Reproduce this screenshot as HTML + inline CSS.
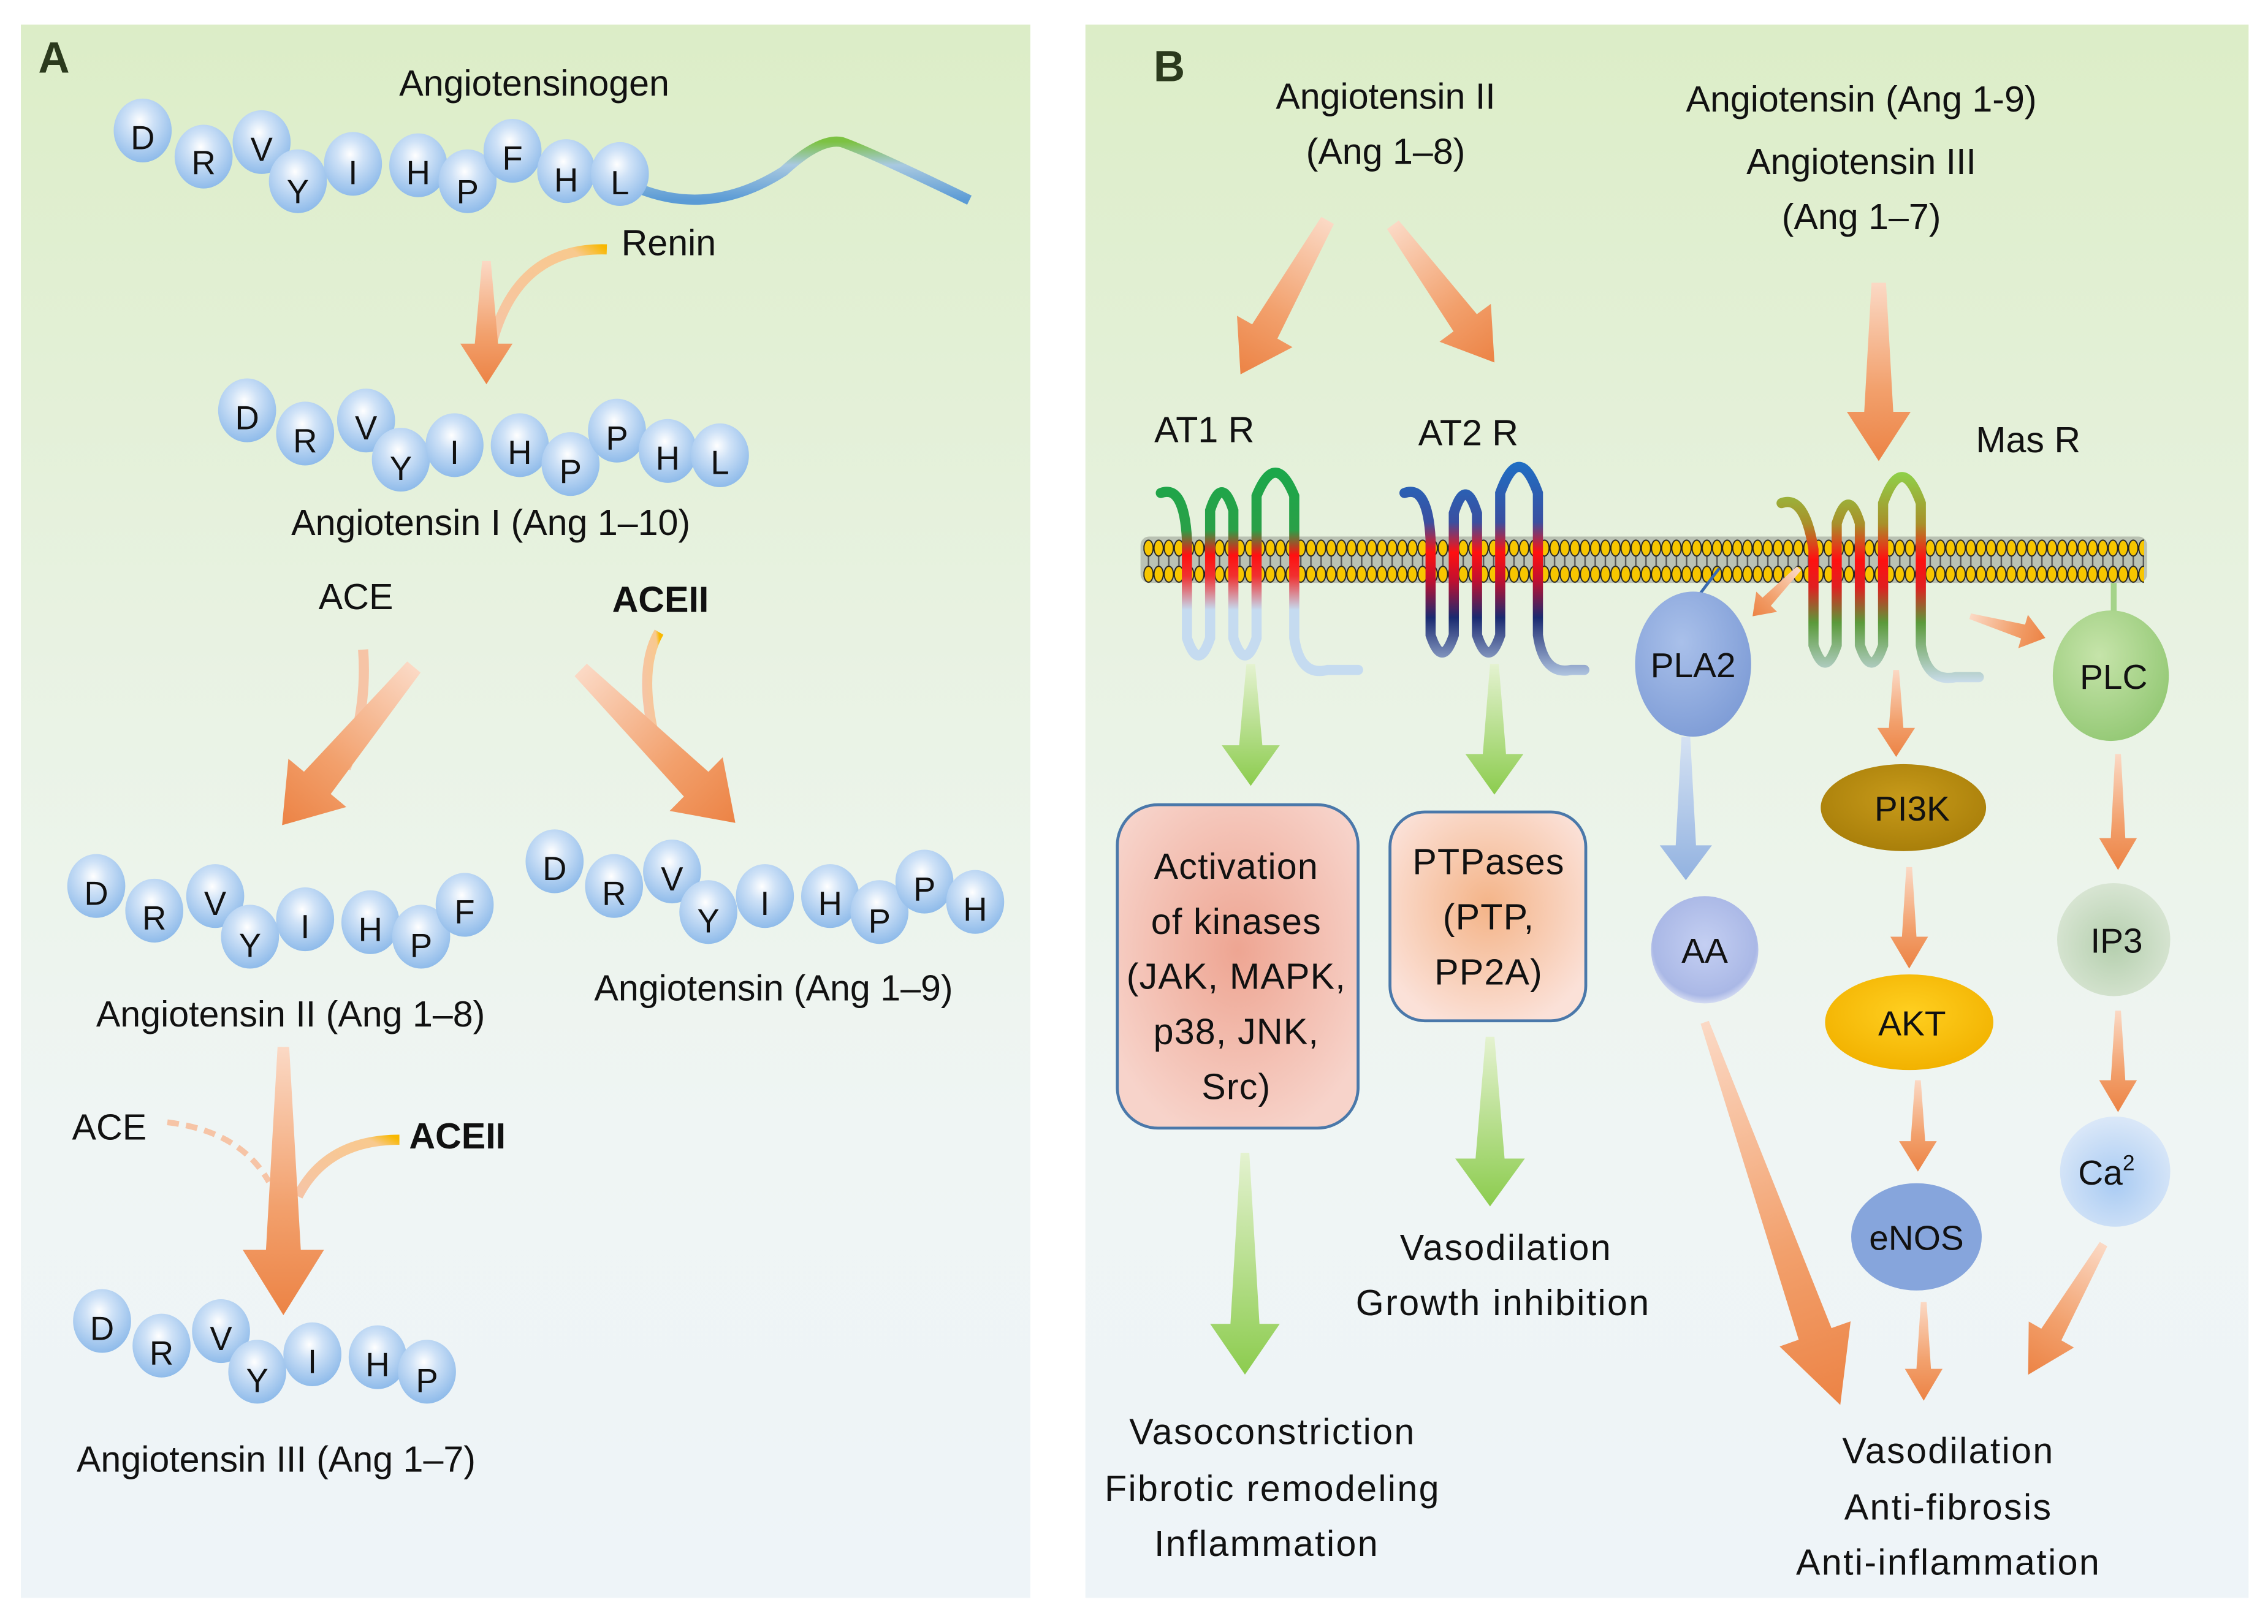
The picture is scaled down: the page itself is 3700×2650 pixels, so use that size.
<!DOCTYPE html>
<html><head><meta charset="utf-8"><style>html,body{margin:0;padding:0;background:#fff}svg{display:block}text{font-family:"Liberation Sans",sans-serif;fill:#111}</style></head>
<body>
<svg width="3700" height="2650" viewBox="0 0 1563 1120" xmlns="http://www.w3.org/2000/svg">
<defs>
<linearGradient id="bg" x1="0" y1="0" x2="0" y2="1"><stop offset="0" stop-color="#dcedc7"/><stop offset="0.45" stop-color="#eaf3e6"/><stop offset="0.7" stop-color="#eff5f4"/><stop offset="1" stop-color="#eef4f8"/></linearGradient>
<radialGradient id="bead" cx="0.45" cy="0.35" r="0.65"><stop offset="0" stop-color="#ffffff"/><stop offset="0.35" stop-color="#cfe2f7"/><stop offset="1" stop-color="#8fbbea"/></radialGradient>
<linearGradient id="og" x1="0" y1="0" x2="0" y2="1"><stop offset="0" stop-color="#fbd9c5"/><stop offset="0.6" stop-color="#f2a06c"/><stop offset="1" stop-color="#ec8345"/></linearGradient>
<linearGradient id="gg" x1="0" y1="0" x2="0" y2="1"><stop offset="0" stop-color="#e4f2d0"/><stop offset="1" stop-color="#8ccc4e"/></linearGradient>
<linearGradient id="bg2" x1="0" y1="0" x2="0" y2="1"><stop offset="0" stop-color="#d5e2f3"/><stop offset="1" stop-color="#92b2e0"/></linearGradient>
<linearGradient id="enz" x1="1" y1="0" x2="0" y2="1"><stop offset="0" stop-color="#f8b800"/><stop offset="0.15" stop-color="#f8c98e"/><stop offset="1" stop-color="#f6c4a6"/></linearGradient>
<linearGradient id="tail" x1="0" y1="0" x2="0" y2="1"><stop offset="0" stop-color="#7cc242"/><stop offset="0.4" stop-color="#a9c9e0"/><stop offset="1" stop-color="#5b9bd5"/></linearGradient>
<linearGradient id="r1" x1="0" y1="0" x2="0" y2="145" gradientUnits="userSpaceOnUse"><stop offset="0" stop-color="#1aa84a"/><stop offset="0.3" stop-color="#2aa048"/><stop offset="0.42" stop-color="#ff1010"/><stop offset="0.52" stop-color="#f03030"/><stop offset="0.68" stop-color="#c5dbf0"/><stop offset="1" stop-color="#c5dbf0"/></linearGradient>
<linearGradient id="r2" x1="0" y1="0" x2="0" y2="150" gradientUnits="userSpaceOnUse"><stop offset="0" stop-color="#1e6fc4"/><stop offset="0.28" stop-color="#3a4fa0"/><stop offset="0.42" stop-color="#ff1010"/><stop offset="0.55" stop-color="#c01030"/><stop offset="0.72" stop-color="#1a2a70"/><stop offset="1" stop-color="#b8cde6"/></linearGradient>
<linearGradient id="r3" x1="0" y1="0" x2="0" y2="145" gradientUnits="userSpaceOnUse"><stop offset="0" stop-color="#8ed24a"/><stop offset="0.25" stop-color="#a8902a"/><stop offset="0.42" stop-color="#ff1010"/><stop offset="0.55" stop-color="#e02020"/><stop offset="0.72" stop-color="#5a9a3a"/><stop offset="1" stop-color="#c8dbe8"/></linearGradient>
<pattern id="lip" width="7" height="30" patternUnits="userSpaceOnUse" x="788" y="372">
<rect x="3" y="6" width="1" height="18" fill="#555"/>
<ellipse cx="3.5" cy="6" rx="3.2" ry="5.5" fill="#f7c600" stroke="#222" stroke-width="0.8"/>
<ellipse cx="3.5" cy="24" rx="3.2" ry="5.5" fill="#f7c600" stroke="#222" stroke-width="0.8"/>
</pattern>
<radialGradient id="box1" cx="0.5" cy="0.45" r="0.6"><stop offset="0" stop-color="#eea592"/><stop offset="1" stop-color="#f7d3ca"/></radialGradient>
<radialGradient id="box2" cx="0.5" cy="0.45" r="0.6"><stop offset="0" stop-color="#f4b488"/><stop offset="1" stop-color="#fbe1d8"/></radialGradient>
<radialGradient id="pla" cx="0.4" cy="0.35" r="0.7"><stop offset="0" stop-color="#a9c0ea"/><stop offset="1" stop-color="#7e9cd6"/></radialGradient>
<radialGradient id="plc" cx="0.4" cy="0.35" r="0.7"><stop offset="0" stop-color="#c6e4aa"/><stop offset="1" stop-color="#93c874"/></radialGradient>
<radialGradient id="aa" cx="0.5" cy="0.45" r="0.6"><stop offset="0" stop-color="#c4cff2"/><stop offset="0.8" stop-color="#aab8e6"/><stop offset="1" stop-color="#f2f4fa"/></radialGradient>
<radialGradient id="ip3" cx="0.5" cy="0.55" r="0.6"><stop offset="0" stop-color="#b5cfae"/><stop offset="1" stop-color="#dbe7d6"/></radialGradient>
<radialGradient id="ca" cx="0.5" cy="0.6" r="0.6"><stop offset="0" stop-color="#a9cbf3"/><stop offset="1" stop-color="#dbe8f8"/></radialGradient>
<radialGradient id="pi3k" cx="0.5" cy="0.4" r="0.6"><stop offset="0" stop-color="#c79a1a"/><stop offset="1" stop-color="#a97f0a"/></radialGradient>
<radialGradient id="akt" cx="0.5" cy="0.4" r="0.6"><stop offset="0" stop-color="#ffcf20"/><stop offset="1" stop-color="#f2b200"/></radialGradient>
</defs>

<rect width="1563" height="1120" fill="#fff"/>
<rect x="14" y="17" width="696" height="1085" fill="url(#bg)"/>
<rect x="748" y="17" width="802" height="1085" fill="url(#bg)"/>

<!-- PANEL A -->
<text x="26" y="50" font-size="30" font-weight="bold" style="fill:#2b3a1d">A</text>
<text x="368" y="66" font-size="25" text-anchor="middle">Angiotensinogen</text>
<path d="M440,130 Q490,150 540,118 Q565,95 580,98 Q600,105 668,138" fill="none" stroke="url(#tail)" stroke-width="7"/>
<g font-size="23" text-anchor="middle">
<g fill="url(#bead)">
<ellipse cx="98" cy="90" rx="20" ry="22"/><ellipse cx="140" cy="108" rx="20" ry="22"/><ellipse cx="180" cy="98" rx="20" ry="22"/><ellipse cx="205" cy="125" rx="20" ry="22"/><ellipse cx="243" cy="113" rx="20" ry="22"/><ellipse cx="288" cy="114" rx="20" ry="22"/><ellipse cx="322" cy="125" rx="20" ry="22"/><ellipse cx="353" cy="104" rx="20" ry="22"/><ellipse cx="390" cy="118" rx="20" ry="22"/><ellipse cx="427" cy="120" rx="20" ry="22"/>
</g>
<text x="98" y="103">D</text><text x="140" y="120">R</text><text x="180" y="111">V</text><text x="205" y="140">Y</text><text x="243" y="127">I</text><text x="288" y="127">H</text><text x="322" y="140">P</text><text x="353" y="117">F</text><text x="390" y="132">H</text><text x="427" y="134">L</text>
</g>
<path d="M418,172 Q355,170 338,240" fill="none" stroke="url(#enz)" stroke-width="7"/>
<text x="428" y="176" font-size="25">Renin</text>
<path transform="translate(335,180)" d="M-3,0 L3,0 L8,57 L18,57 L0,85 L-18,57 L-8,57 Z" fill="url(#og)"/>

<g font-size="23" text-anchor="middle">
<g fill="url(#bead)">
<ellipse cx="170" cy="283" rx="20" ry="22"/><ellipse cx="210" cy="299" rx="20" ry="22"/><ellipse cx="252" cy="290" rx="20" ry="22"/><ellipse cx="276" cy="317" rx="20" ry="22"/><ellipse cx="313" cy="307" rx="20" ry="22"/><ellipse cx="358" cy="307" rx="20" ry="22"/><ellipse cx="393" cy="320" rx="20" ry="22"/><ellipse cx="425" cy="297" rx="20" ry="22"/><ellipse cx="460" cy="311" rx="20" ry="22"/><ellipse cx="496" cy="314" rx="20" ry="22"/>
</g>
<text x="170" y="296">D</text><text x="210" y="312">R</text><text x="252" y="303">V</text><text x="276" y="331">Y</text><text x="313" y="320">I</text><text x="358" y="320">H</text><text x="393" y="333">P</text><text x="425" y="310">P</text><text x="460" y="324">H</text><text x="496" y="327">L</text>
</g>
<text x="338" y="369" font-size="25" text-anchor="middle">Angiotensin I (Ang 1–10)</text>

<text x="245" y="420" font-size="25" text-anchor="middle">ACE</text>
<text x="455" y="422" font-size="25" font-weight="bold" text-anchor="middle">ACEII</text>
<path d="M250,448 Q253,490 238,530" fill="none" stroke="#f6c4a6" stroke-width="7"/>
<path d="M454,436 Q440,460 450,505" fill="none" stroke="url(#enz)" stroke-width="7"/>
<path transform="translate(285,460) rotate(39.8)" d="M-6,0 L6,0 L12,104 L26,104 L0,142 L-26,104 L-12,104 Z" fill="url(#og)"/>
<path transform="translate(400,462) rotate(-45.3)" d="M-6,0 L6,0 L12,112 L26,112 L0,150 L-26,112 L-12,112 Z" fill="url(#og)"/>

<g font-size="23" text-anchor="middle">
<g fill="url(#bead)">
<ellipse cx="66" cy="611" rx="20" ry="22"/><ellipse cx="106" cy="628" rx="20" ry="22"/><ellipse cx="148" cy="618" rx="20" ry="22"/><ellipse cx="172" cy="646" rx="20" ry="22"/><ellipse cx="210" cy="634" rx="20" ry="22"/><ellipse cx="255" cy="636" rx="20" ry="22"/><ellipse cx="290" cy="646" rx="20" ry="22"/><ellipse cx="320" cy="624" rx="20" ry="22"/>
</g>
<text x="66" y="624">D</text><text x="106" y="641">R</text><text x="148" y="631">V</text><text x="172" y="660">Y</text><text x="210" y="647">I</text><text x="255" y="649">H</text><text x="290" y="660">P</text><text x="320" y="637">F</text>
</g>
<text x="200" y="708" font-size="25" text-anchor="middle">Angiotensin II (Ang 1–8)</text>

<g font-size="23" text-anchor="middle">
<g fill="url(#bead)">
<ellipse cx="382" cy="594" rx="20" ry="22"/><ellipse cx="423" cy="611" rx="20" ry="22"/><ellipse cx="463" cy="601" rx="20" ry="22"/><ellipse cx="488" cy="629" rx="20" ry="22"/><ellipse cx="527" cy="618" rx="20" ry="22"/><ellipse cx="572" cy="618" rx="20" ry="22"/><ellipse cx="606" cy="629" rx="20" ry="22"/><ellipse cx="637" cy="608" rx="20" ry="22"/><ellipse cx="672" cy="622" rx="20" ry="22"/>
</g>
<text x="382" y="607">D</text><text x="423" y="624">R</text><text x="463" y="614">V</text><text x="488" y="643">Y</text><text x="527" y="631">I</text><text x="572" y="631">H</text><text x="606" y="643">P</text><text x="637" y="621">P</text><text x="672" y="635">H</text>
</g>
<text x="533" y="690" font-size="25" text-anchor="middle">Angiotensin (Ang 1–9)</text>

<text x="75" y="786" font-size="25" text-anchor="middle">ACE</text>
<text x="315" y="792" font-size="25" font-weight="bold" text-anchor="middle">ACEII</text>
<path d="M115,774 Q165,780 185,815" fill="none" stroke="#f6c4a6" stroke-width="4" stroke-dasharray="8,5"/>
<path d="M275,786 Q225,786 205,825" fill="none" stroke="url(#enz)" stroke-width="7"/>
<path transform="translate(195,722)" d="M-4,0 L4,0 L12,140 L28,140 L0,185 L-28,140 L-12,140 Z" fill="url(#og)"/>

<g font-size="23" text-anchor="middle">
<g fill="url(#bead)">
<ellipse cx="70" cy="911" rx="20" ry="22"/><ellipse cx="111" cy="928" rx="20" ry="22"/><ellipse cx="152" cy="918" rx="20" ry="22"/><ellipse cx="177" cy="946" rx="20" ry="22"/><ellipse cx="215" cy="934" rx="20" ry="22"/><ellipse cx="260" cy="936" rx="20" ry="22"/><ellipse cx="294" cy="946" rx="20" ry="22"/>
</g>
<text x="70" y="924">D</text><text x="111" y="941">R</text><text x="152" y="931">V</text><text x="177" y="960">Y</text><text x="215" y="947">I</text><text x="260" y="949">H</text><text x="294" y="960">P</text>
</g>
<text x="190" y="1015" font-size="25" text-anchor="middle">Angiotensin III (Ang 1–7)</text>

<!-- PANEL B -->
<text x="795" y="56" font-size="30" font-weight="bold" style="fill:#2b3a1d">B</text>
<g font-size="25" text-anchor="middle">
<text x="955" y="75">Angiotensin II</text>
<text x="955" y="113">(Ang 1–8)</text>
<text x="1283" y="77">Angiotensin (Ang 1-9)</text>
<text x="1283" y="120">Angiotensin III</text>
<text x="1283" y="158">(Ang 1–7)</text>
<text x="830" y="305">AT1 R</text>
<text x="1012" y="307">AT2 R</text>
<text x="1398" y="312">Mas R</text>
</g>
<path transform="translate(915,152) rotate(29.5)" d="M-5,0 L5,0 L10,88 L22,88 L0,122 L-22,88 L-10,88 Z" fill="url(#og)"/>
<path transform="translate(960,155) rotate(-36.4)" d="M-5,0 L5,0 L10,84 L22,84 L0,118 L-22,84 L-10,84 Z" fill="url(#og)"/>
<path transform="translate(1295,195)" d="M-5,0 L5,0 L10,89 L22,89 L0,123 L-22,89 L-10,89 Z" fill="url(#og)"/>

<!-- membrane -->
<rect x="786" y="370" width="694" height="32" rx="6" fill="#333" opacity="0.25"/>
<rect x="788" y="372" width="690" height="30" fill="url(#lip)"/>

<!-- receptors -->
<g fill="none" stroke-width="7" stroke-linecap="round">
<path transform="translate(800,322)" stroke="url(#r1)" d="M0,18 Q16,12 18,50 L18,118 Q26,142 34,118 L34,30 Q42,5 50,30 L50,118 Q58,142 66,118 L66,20 Q79,-12 92,20 L92,118 Q96,145 115,140 L136,140"/>
<path transform="translate(968,318)" stroke="url(#r2)" d="M0,22 Q16,16 18,54 L18,120 Q26,144 34,120 L34,36 Q42,10 50,36 L50,120 Q58,144 66,120 L66,22 Q79,-14 92,22 L92,120 Q96,148 115,144 L124,144"/>
<path transform="translate(1228,325)" stroke="url(#r3)" d="M0,22 Q16,16 22,54 L22,120 Q30,144 38,120 L38,36 Q46,10 54,36 L54,120 Q62,144 70,120 L70,22 Q83,-14 96,22 L96,120 Q100,146 120,142 L136,142"/>
</g>
<path d="M1185,392 Q1175,405 1170,412" stroke="#3a6ab0" stroke-width="2" fill="none"/>
<line x1="1457" y1="402" x2="1457" y2="425" stroke="#a5d38a" stroke-width="4"/>
<ellipse cx="1167" cy="458" rx="40" ry="50" fill="url(#pla)"/>
<text x="1167" y="467" font-size="24" text-anchor="middle">PLA2</text>
<ellipse cx="1455" cy="466" rx="40" ry="45" fill="url(#plc)"/>
<text x="1457" y="475" font-size="24" text-anchor="middle">PLC</text>

<path transform="translate(1240,392) rotate(44.1)" d="M-2,0 L2,0 L4,32 L10,32 L0,46 L-10,32 L-4,32 Z" fill="url(#og)"/>
<path transform="translate(1358,425) rotate(-73.9)" d="M-2,0 L2,0 L5,38 L12,38 L0,54 L-12,38 L-5,38 Z" fill="url(#og)"/>

<!-- green arrows -->
<path transform="translate(862,458)" d="M-3,0 L3,0 L8,56 L20,56 L0,84 L-20,56 L-8,56 Z" fill="url(#gg)"/>
<path transform="translate(1030,458)" d="M-3,0 L3,0 L8,62 L20,62 L0,90 L-20,62 L-8,62 Z" fill="url(#gg)"/>
<path transform="translate(858,795)" d="M-3,0 L3,0 L10,118 L24,118 L0,153 L-24,118 L-10,118 Z" fill="url(#gg)"/>
<path transform="translate(1027,715)" d="M-3,0 L3,0 L10,84 L24,84 L0,117 L-24,84 L-10,84 Z" fill="url(#gg)"/>
<!-- blue arrow -->
<path transform="translate(1162,508)" d="M-3,0 L3,0 L7,75 L18,75 L0,99 L-18,75 L-7,75 Z" fill="url(#bg2)"/>

<!-- boxes -->
<rect x="770" y="555" width="166" height="223" rx="28" fill="url(#box1)" stroke="#4a78aa" stroke-width="2"/>
<g font-size="25" text-anchor="middle" letter-spacing="0.5">
<text x="852" y="606">Activation</text>
<text x="852" y="644">of kinases</text>
<text x="852" y="682">(JAK, MAPK,</text>
<text x="852" y="720">p38, JNK,</text>
<text x="852" y="758">Src)</text>
</g>
<rect x="958" y="560" width="135" height="144" rx="24" fill="url(#box2)" stroke="#4a78aa" stroke-width="2"/>
<g font-size="25" text-anchor="middle" letter-spacing="0.5">
<text x="1026" y="603">PTPases</text>
<text x="1026" y="641">(PTP,</text>
<text x="1026" y="679">PP2A)</text>
</g>
<g font-size="25" text-anchor="middle" letter-spacing="1">
<text x="1038" y="869">Vasodilation</text>
<text x="1036" y="907">Growth inhibition</text>
<text x="877" y="996">Vasoconstriction</text>
<text x="877" y="1035">Fibrotic remodeling</text>
<text x="873" y="1073">Inflammation</text>
<text x="1343" y="1009">Vasodilation</text>
<text x="1343" y="1048">Anti-fibrosis</text>
<text x="1343" y="1086">Anti-inflammation</text>
</g>

<!-- Mas pathway -->
<circle cx="1175" cy="655" r="37" fill="url(#aa)"/>
<text x="1175" y="664" font-size="24" text-anchor="middle">AA</text>
<ellipse cx="1312" cy="557" rx="57" ry="30" fill="url(#pi3k)"/>
<text x="1318" y="566" font-size="24" text-anchor="middle">PI3K</text>
<ellipse cx="1316" cy="705" rx="58" ry="33" fill="url(#akt)"/>
<text x="1318" y="714" font-size="24" text-anchor="middle">AKT</text>
<ellipse cx="1321" cy="853" rx="45" ry="37" fill="#86a5dc"/>
<text x="1321" y="862" font-size="24" text-anchor="middle">eNOS</text>
<circle cx="1457" cy="648" r="39" fill="url(#ip3)"/>
<text x="1459" y="657" font-size="24" text-anchor="middle">IP3</text>
<circle cx="1458" cy="808" r="38" fill="url(#ca)"/>
<text x="1452" y="817" font-size="24" text-anchor="middle">Ca<tspan font-size="15" dy="-10">2</tspan></text>

<path transform="translate(1307,462)" d="M-2,0 L2,0 L5,40 L13,40 L0,60 L-13,40 L-5,40 Z" fill="url(#og)"/>
<path transform="translate(1316,598)" d="M-2,0 L2,0 L5,48 L13,48 L0,70 L-13,48 L-5,48 Z" fill="url(#og)"/>
<path transform="translate(1322,745)" d="M-2,0 L2,0 L5,42 L13,42 L0,63 L-13,42 L-5,42 Z" fill="url(#og)"/>
<path transform="translate(1326,898)" d="M-2,0 L2,0 L5,46 L13,46 L0,68 L-13,46 L-5,46 Z" fill="url(#og)"/>
<path transform="translate(1460,520)" d="M-2,0 L2,0 L5,58 L13,58 L0,80 L-13,58 L-5,58 Z" fill="url(#og)"/>
<path transform="translate(1460,697)" d="M-2,0 L2,0 L5,48 L13,48 L0,70 L-13,48 L-5,48 Z" fill="url(#og)"/>
<path transform="translate(1175,705) rotate(-19.5)" d="M-3,0 L3,0 L12,228 L26,228 L0,280 L-26,228 L-12,228 Z" fill="url(#og)"/>
<path transform="translate(1450,858) rotate(30)" d="M-3,0 L3,0 L8,72 L18,72 L0,104 L-18,72 L-8,72 Z" fill="url(#og)"/>
</svg>
</body></html>
